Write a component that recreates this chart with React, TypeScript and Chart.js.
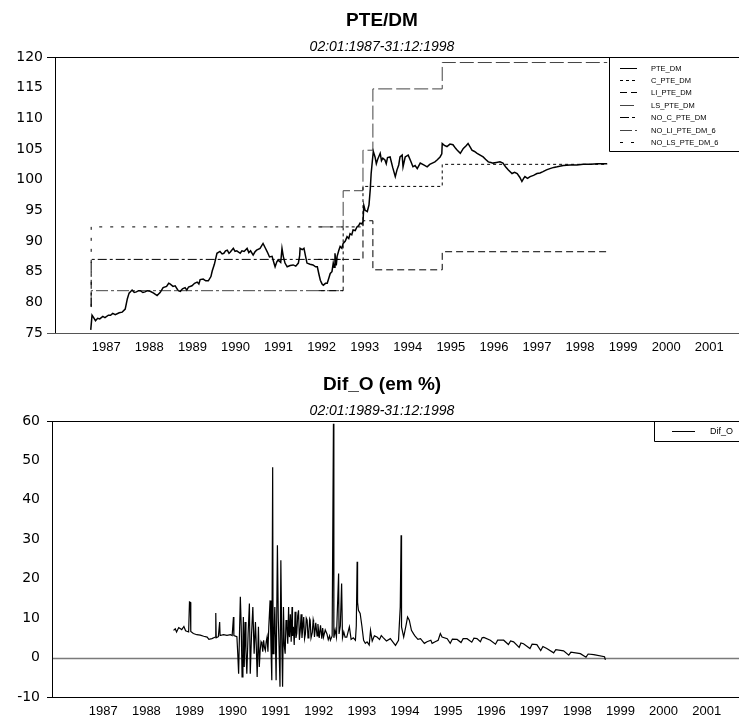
import React, { useEffect, useRef } from "react";
import { Chart, registerables } from "chart.js";

Chart.register(...registerables);

// ---------- text ----------
const TOP_TITLE = "PTE/DM";
const TOP_SUBTITLE = "02:01:1987-31:12:1998";
const BOTTOM_TITLE = "Dif_O (em %)";
const BOTTOM_SUBTITLE = "02:01:1989-31:12:1998";

// ---------- axes ----------
const YEAR_LABELS = [1987, 1988, 1989, 1990, 1991, 1992, 1993, 1994, 1995, 1996, 1997, 1998, 1999, 2000, 2001];
const TOP_Y = { min: 75, max: 120, step: 5 };
const BOTTOM_Y = { min: -10, max: 60, step: 10 };

// ---------- series (decimal year, value) ----------
const PTE_DM: [number, number][] = [
  [1986.99, 75.5], [1987.02, 77.9], [1987.05, 77.6], [1987.1, 77.0], [1987.15, 77.4], [1987.2, 77.3], [1987.27, 77.7],
  [1987.32, 77.5], [1987.4, 77.9], [1987.45, 77.9], [1987.5, 78.2], [1987.56, 78.0], [1987.65, 78.3], [1987.72, 78.4],
  [1987.79, 78.9], [1987.84, 80.6], [1987.88, 81.5], [1987.95, 82.0], [1988.0, 81.6], [1988.05, 81.7], [1988.1, 81.9],
  [1988.14, 81.9], [1988.2, 81.6], [1988.25, 81.7], [1988.31, 81.9], [1988.37, 81.8], [1988.45, 81.5], [1988.53, 81.1],
  [1988.6, 81.6], [1988.67, 82.4], [1988.75, 82.6], [1988.8, 83.1], [1988.83, 83.0], [1988.9, 82.6], [1988.95, 82.7],
  [1989.02, 81.9], [1989.07, 81.8], [1989.12, 82.2], [1989.18, 82.4], [1989.22, 82.0], [1989.26, 82.5], [1989.34, 82.7],
  [1989.4, 83.1], [1989.46, 83.3], [1989.5, 83.0], [1989.53, 83.7], [1989.6, 83.8], [1989.66, 83.5], [1989.72, 83.5],
  [1989.78, 84.2], [1989.81, 85.1], [1989.86, 86.2], [1989.92, 88.0], [1989.99, 88.3], [1990.04, 87.9], [1990.08, 88.0],
  [1990.12, 88.4], [1990.16, 88.5], [1990.2, 88.0], [1990.23, 88.2], [1990.3, 88.8], [1990.34, 88.3], [1990.38, 88.4],
  [1990.46, 88.0], [1990.5, 88.4], [1990.55, 88.3], [1990.62, 88.8], [1990.66, 88.1], [1990.7, 88.4], [1990.76, 87.7],
  [1990.8, 88.2], [1990.84, 88.5], [1990.92, 88.8], [1990.99, 89.6], [1991.04, 88.9], [1991.09, 88.2], [1991.14, 87.4],
  [1991.2, 87.5], [1991.24, 86.5], [1991.27, 85.8], [1991.31, 86.6], [1991.34, 86.9], [1991.4, 86.5], [1991.43, 88.8],
  [1991.46, 87.5], [1991.5, 86.4], [1991.55, 85.8], [1991.62, 86.0], [1991.69, 86.1], [1991.75, 85.9], [1991.81, 86.4],
  [1991.84, 87.6], [1991.85, 88.8], [1991.9, 88.6], [1991.94, 88.8], [1991.98, 87.4], [1992.01, 86.4], [1992.08, 86.2],
  [1992.15, 86.1], [1992.21, 85.8], [1992.25, 85.8], [1992.29, 84.5], [1992.32, 83.6], [1992.36, 83.0], [1992.39, 82.8],
  [1992.44, 83.1], [1992.48, 83.1], [1992.52, 84.0], [1992.55, 84.7], [1992.59, 85.0], [1992.62, 86.4], [1992.64, 85.7],
  [1992.66, 88.0], [1992.69, 86.0], [1992.71, 87.5], [1992.75, 88.5], [1992.78, 89.1], [1992.82, 88.8], [1992.85, 89.6],
  [1992.9, 90.0], [1992.94, 90.7], [1992.98, 90.4], [1993.01, 91.2], [1993.05, 91.0], [1993.08, 91.8], [1993.13, 91.7],
  [1993.17, 92.3], [1993.21, 92.5], [1993.24, 92.9], [1993.28, 92.8], [1993.31, 93.1], [1993.33, 95.8], [1993.36, 95.0],
  [1993.41, 94.8], [1993.45, 95.9], [1993.48, 98.5], [1993.5, 101.0], [1993.53, 103.2], [1993.55, 104.6], [1993.59, 103.7],
  [1993.62, 102.6], [1993.65, 103.3], [1993.71, 104.3], [1993.74, 103.1], [1993.77, 103.5], [1993.82, 103.2],
  [1993.85, 102.6], [1993.88, 103.6], [1993.94, 103.7], [1994.0, 102.0], [1994.06, 100.5], [1994.1, 101.6],
  [1994.14, 102.4], [1994.17, 103.7], [1994.22, 104.0], [1994.24, 102.1], [1994.29, 103.7], [1994.36, 104.0],
  [1994.42, 103.0], [1994.47, 102.1], [1994.52, 102.3], [1994.57, 101.8], [1994.64, 102.7], [1994.72, 102.4],
  [1994.8, 102.1], [1994.86, 102.5], [1994.92, 102.7], [1994.98, 102.9], [1995.03, 103.2], [1995.1, 103.7],
  [1995.14, 104.2], [1995.15, 105.9], [1995.2, 105.6], [1995.26, 105.4], [1995.33, 105.8], [1995.4, 105.7],
  [1995.46, 105.1], [1995.5, 104.8], [1995.57, 104.3], [1995.64, 105.1], [1995.7, 105.5], [1995.75, 105.9],
  [1995.8, 105.3], [1995.84, 104.8], [1995.9, 104.6], [1995.96, 104.3], [1996.03, 104.0], [1996.1, 103.7],
  [1996.16, 103.3], [1996.22, 102.9], [1996.28, 102.8], [1996.33, 102.7], [1996.41, 102.8], [1996.49, 102.9],
  [1996.56, 102.7], [1996.62, 102.1], [1996.68, 101.6], [1996.77, 101.0], [1996.83, 101.2], [1996.89, 101.0],
  [1996.95, 100.4], [1997.0, 99.7], [1997.04, 100.2], [1997.07, 100.5], [1997.13, 100.2], [1997.19, 100.5],
  [1997.27, 100.7], [1997.35, 101.0], [1997.42, 101.1], [1997.49, 101.3], [1997.57, 101.6], [1997.65, 101.8],
  [1997.74, 102.0], [1997.82, 102.1], [1997.96, 102.3], [1998.12, 102.4], [1998.28, 102.4], [1998.42, 102.5],
  [1998.6, 102.5], [1998.75, 102.6], [1998.98, 102.6],
];

// step series: each point = (date the value starts, value); last point closes the range
const C_PTE_DM: [number, number][] = [[1992.27, 87.0], [1992.85, 92.3], [1993.31, 98.9], [1995.15, 102.5], [1998.98, 102.5]];
const LI_PTE_DM: [number, number][] = [[1992.27, 81.9], [1992.85, 87.0], [1993.31, 93.3], [1993.54, 85.3], [1995.15, 88.25], [1998.98, 88.25]];
const LS_PTE_DM: [number, number][] = [[1992.27, 92.3], [1992.85, 98.2], [1993.31, 104.8], [1993.54, 114.8], [1995.15, 119.1], [1998.98, 119.1]];
const NO_C_PTE_DM: [number, number][] = [[1986.995, 79.3], [1987.0, 87.0], [1992.85, 87.0]];
const NO_LI_PTE_DM_6: [number, number][] = [[1986.995, 79.3], [1987.0, 81.9], [1992.85, 81.9]];
const NO_LS_PTE_DM_6: [number, number][] = [[1986.995, 79.3], [1987.0, 92.3], [1992.85, 92.3]];

const DIF_O: [number, number][] = [
  [1988.98, 6.9], [1989.02, 7.3], [1989.05, 6.5], [1989.1, 7.6], [1989.17, 7.1], [1989.22, 7.9], [1989.26, 6.8],
  [1989.33, 6.5], [1989.35, 14.1], [1989.37, 14.0], [1989.38, 6.6], [1989.44, 6.1], [1989.52, 5.8], [1989.6, 5.7],
  [1989.68, 5.4], [1989.76, 5.2], [1989.8, 4.6], [1989.87, 4.8], [1989.95, 5.2], [1989.96, 11.3], [1989.97, 5.0],
  [1990.02, 5.3], [1990.05, 9.0], [1990.06, 5.6], [1990.14, 5.8], [1990.22, 5.65], [1990.3, 5.8], [1990.34, 5.6],
  [1990.37, 10.3], [1990.38, 5.6], [1990.45, 5.3], [1990.47, 1.0], [1990.49, -4.1], [1990.51, 6.0], [1990.53, 15.4],
  [1990.55, 8.0], [1990.57, -4.9], [1990.59, 4.0], [1990.6, 10.3], [1990.62, -2.4], [1990.64, 9.0], [1990.66, 2.0],
  [1990.68, -4.1], [1990.71, 6.0], [1990.74, 13.7], [1990.76, -4.1], [1990.79, 6.0], [1990.82, 12.8], [1990.85, 1.0],
  [1990.88, 9.0], [1990.9, 3.0], [1990.92, -4.9], [1990.95, 7.8], [1990.97, -2.4], [1990.99, 1.8], [1991.01, 4.0],
  [1991.03, 3.5], [1991.05, 1.5], [1991.07, 4.4], [1991.09, 2.5], [1991.11, 1.8], [1991.13, 4.0], [1991.15, 5.2],
  [1991.17, 1.5], [1991.19, 7.8], [1991.22, 14.5], [1991.24, 3.0], [1991.26, -5.75], [1991.28, 48.3], [1991.29, 1.0],
  [1991.31, 5.0], [1991.33, 12.8], [1991.36, -5.75], [1991.39, 28.5], [1991.41, 10.0], [1991.43, 2.0], [1991.45, -7.4],
  [1991.47, 24.7], [1991.49, 5.0], [1991.51, -7.4], [1991.53, 12.8], [1991.55, 3.0], [1991.57, 1.0], [1991.59, 9.5],
  [1991.61, 7.8], [1991.63, 3.5], [1991.65, 12.8], [1991.66, 6.0], [1991.67, 5.2], [1991.69, 11.0], [1991.71, 4.0],
  [1991.73, 12.8], [1991.74, 5.5], [1991.76, 7.8], [1991.78, 3.2], [1991.8, 11.6], [1991.82, 5.0], [1991.84, 6.1],
  [1991.86, 10.5], [1991.88, 12.0], [1991.9, 4.5], [1991.92, 6.9], [1991.94, 11.0], [1991.96, 5.0], [1992.0, 10.3],
  [1992.02, 4.8], [1992.04, 6.0], [1992.06, 10.0], [1992.08, 9.5], [1992.1, 5.0], [1992.12, 6.5], [1992.14, 9.8],
  [1992.15, 9.5], [1992.17, 5.0], [1992.2, 6.4], [1992.22, 9.6], [1992.23, 9.0], [1992.25, 5.2], [1992.28, 8.8],
  [1992.31, 5.5], [1992.33, 8.5], [1992.36, 5.0], [1992.39, 8.2], [1992.42, 4.8], [1992.44, 7.5], [1992.46, 5.2],
  [1992.5, 7.0], [1992.54, 6.0], [1992.57, 4.5], [1992.6, 5.5], [1992.62, 4.4], [1992.66, 5.5], [1992.69, 59.3],
  [1992.7, 5.0], [1992.73, 7.0], [1992.76, 5.2], [1992.81, 21.3], [1992.82, 6.0], [1992.85, 8.0], [1992.88, 18.8],
  [1992.9, 5.0], [1992.93, 6.5], [1992.96, 5.2], [1993.0, 5.2], [1993.03, 6.5], [1993.06, 7.8], [1993.1, 4.6],
  [1993.15, 5.0], [1993.2, 4.4], [1993.22, 8.0], [1993.24, 24.3], [1993.25, 14.0], [1993.27, 12.0], [1993.31, 11.2],
  [1993.35, 8.0], [1993.39, 4.4], [1993.43, 3.6], [1993.47, 4.0], [1993.52, 3.2], [1993.55, 6.9], [1993.59, 4.2],
  [1993.64, 5.5], [1993.7, 5.2], [1993.76, 4.6], [1993.8, 5.6], [1993.85, 5.0], [1993.92, 4.2], [1994.01, 4.8],
  [1994.08, 3.8], [1994.13, 3.1], [1994.2, 4.4], [1994.24, 12.8], [1994.26, 31.0], [1994.27, 7.8], [1994.32, 5.2],
  [1994.38, 8.5], [1994.41, 10.3], [1994.45, 9.5], [1994.5, 6.9], [1994.55, 6.0], [1994.58, 5.5], [1994.65, 4.6],
  [1994.71, 4.8], [1994.8, 3.6], [1994.86, 4.0], [1994.95, 4.4], [1994.98, 3.6], [1995.05, 4.0], [1995.12, 4.4],
  [1995.17, 6.1], [1995.21, 5.2], [1995.33, 4.8], [1995.4, 3.6], [1995.45, 4.7], [1995.56, 4.6], [1995.65, 3.8],
  [1995.7, 4.8], [1995.79, 4.8], [1995.9, 3.9], [1995.95, 4.9], [1996.02, 4.8], [1996.1, 4.0], [1996.14, 5.0],
  [1996.18, 5.1], [1996.33, 4.4], [1996.45, 3.4], [1996.5, 4.4], [1996.64, 4.4], [1996.75, 3.3], [1996.8, 4.2],
  [1996.87, 4.0], [1997.0, 2.6], [1997.04, 3.7], [1997.1, 3.5], [1997.25, 2.3], [1997.3, 3.4], [1997.41, 3.3],
  [1997.5, 1.8], [1997.55, 2.8], [1997.64, 2.3], [1997.8, 1.2], [1997.85, 2.0], [1998.03, 1.7], [1998.15, 0.6],
  [1998.2, 1.4], [1998.42, 1.0], [1998.55, 0.1], [1998.6, 0.9], [1998.73, 0.75], [1998.98, 0.2], [1999.0, -0.6],
];

// ---------- styling ----------
const SANS = "'Liberation Sans', Arial, Helvetica, sans-serif";
const NARROW = "'Liberation Sans Narrow', 'Arial Narrow', 'Liberation Sans', sans-serif";
const WIDE = "'DejaVu Sans', 'Liberation Sans', sans-serif";
const LABEL_OFFSET = 0.35; // year label sits a little after the year start

const headingsPlugin = {
  id: "headings",
  afterDraw(chart: any, _a: any, o: any) {
    const ctx = chart.ctx;
    ctx.save();
    ctx.fillStyle = "#000";
    ctx.textAlign = "center";
    ctx.textBaseline = "middle";
    ctx.font = `bold 19px ${SANS}`;
    ctx.fillText(o.title, o.x, o.titleY);
    ctx.font = `italic 14px ${SANS}`;
    ctx.fillText(o.subtitle, o.x, o.subtitleY);
    ctx.restore();
  },
};

const framePlugin = {
  id: "frame",
  beforeDatasetsDraw(chart: any, _a: any, o: any) {
    const { ctx, chartArea } = chart;
    const { left, right, top, bottom } = chartArea;
    ctx.save();
    ctx.lineWidth = 1;
    ctx.setLineDash([]);
    if (o.zero) {
      const zy = Math.round(chart.scales.y.getPixelForValue(0)) + 0.5;
      ctx.strokeStyle = "#7a7a7a";
      ctx.lineWidth = 1.5;
      ctx.beginPath();
      ctx.moveTo(left, zy);
      ctx.lineTo(right, zy);
      ctx.stroke();
      ctx.lineWidth = 1;
    }
    ctx.strokeStyle = "#000";
    ctx.beginPath();
    ctx.moveTo(left - o.ext, Math.round(top) + 0.5);
    ctx.lineTo(right, Math.round(top) + 0.5);
    ctx.moveTo(Math.round(left) + 0.5, top);
    ctx.lineTo(Math.round(left) + 0.5, bottom);
    ctx.stroke();
    ctx.strokeStyle = o.bottomColor;
    ctx.beginPath();
    ctx.moveTo(left - o.ext, Math.round(bottom) + 0.5);
    ctx.lineTo(right, Math.round(bottom) + 0.5);
    ctx.stroke();
    ctx.restore();
  },
};

const boxLegendPlugin = {
  id: "boxLegend",
  afterDraw(chart: any, _a: any, o: any) {
    const { ctx, chartArea } = chart;
    const bx = chartArea.right - o.width;
    const by = chartArea.top;
    ctx.save();
    ctx.fillStyle = "#fff";
    ctx.fillRect(bx, by, o.width, o.height);
    ctx.strokeStyle = "#000";
    ctx.lineWidth = 1;
    ctx.setLineDash([]);
    ctx.beginPath();
    ctx.moveTo(Math.round(bx) + 0.5, by);
    ctx.lineTo(Math.round(bx) + 0.5, by + o.height + 0.5);
    ctx.lineTo(chartArea.right, by + o.height + 0.5);
    ctx.moveTo(bx, Math.round(by) + 0.5);
    ctx.lineTo(chartArea.right, Math.round(by) + 0.5);
    ctx.stroke();
    ctx.font = `${o.fontSize}px ${SANS}`;
    ctx.textAlign = "left";
    ctx.textBaseline = "middle";
    chart.data.datasets.forEach((ds: any, i: number) => {
      const y = Math.round(by + o.firstRow + i * o.rowGap) + 0.5;
      ctx.strokeStyle = ds.borderColor;
      ctx.lineWidth = 1;
      ctx.setLineDash(ds.borderDash || []);
      ctx.beginPath();
      ctx.moveTo(bx + o.lineStart, y);
      ctx.lineTo(bx + o.lineEnd, y);
      ctx.stroke();
      ctx.setLineDash([]);
      ctx.fillStyle = "#000";
      ctx.fillText(ds.label, bx + o.textX, y);
    });
    ctx.restore();
  },
};

function xScale(min: number, max: number) {
  return {
    type: "linear" as const,
    min,
    max,
    grid: { display: false, drawTicks: false },
    border: { display: false },
    afterBuildTicks: (s: any) => {
      s.ticks = YEAR_LABELS.map((y) => ({ value: y + LABEL_OFFSET }));
    },
    ticks: {
      autoSkip: false,
      maxRotation: 0,
      padding: 7,
      color: "#000",
      font: { family: NARROW, size: 13 },
      callback: (v: any) => String(Math.floor(Number(v))),
    },
  };
}

function yScale(cfg: { min: number; max: number; step: number }, width: number) {
  return {
    type: "linear" as const,
    min: cfg.min,
    max: cfg.max,
    grid: { display: false, drawTicks: false },
    border: { display: false },
    afterFit: (s: any) => {
      s.width = width;
    },
    ticks: {
      stepSize: cfg.step,
      padding: 12,
      color: "#000",
      font: { family: WIDE, size: 14 },
    },
  };
}

function lineDs(label: string, data: [number, number][], color: string, dash: number[], width: number, stepped: boolean) {
  return {
    label,
    data,
    borderColor: color,
    borderDash: dash,
    borderWidth: width,
    pointRadius: 0,
    tension: 0,
    fill: false,
    stepped: stepped ? ("before" as const) : false,
  };
}

function topConfig(): any {
  return {
    type: "line",
    data: {
      datasets: [
        lineDs("PTE_DM", PTE_DM, "#000", [], 1.5, false),
        lineDs("C_PTE_DM", C_PTE_DM, "#000", [3, 3], 1, true),
        lineDs("LI_PTE_DM", LI_PTE_DM, "#000", [7, 4], 1, true),
        lineDs("LS_PTE_DM", LS_PTE_DM, "#444", [14, 4], 1, true),
        lineDs("NO_C_PTE_DM", NO_C_PTE_DM, "#000", [9, 3, 3, 3], 1, true),
        lineDs("NO_LI_PTE_DM_6", NO_LI_PTE_DM_6, "#444", [12, 3, 3, 3], 1, true),
        lineDs("NO_LS_PTE_DM_6", NO_LS_PTE_DM_6, "#000", [3, 8], 1, true),
      ],
    },
    options: {
      responsive: false,
      animation: false,
      layout: { padding: { top: 57, left: 0, right: 0, bottom: 0 } },
      scales: {
        x: { ...xScale(1986.16, 2002.04), afterFit: (s: any) => { s.height = 29; } },
        y: yScale(TOP_Y, 55),
      },
      plugins: {
        legend: { display: false },
        title: { display: false },
        tooltip: { enabled: false },
        headings: { title: TOP_TITLE, subtitle: TOP_SUBTITLE, x: 382, titleY: 21, subtitleY: 47.5 },
        frame: { ext: 8, bottomColor: "#555", zero: false },
        boxLegend: { width: 130, height: 94, firstRow: 10.5, rowGap: 12.4, lineStart: 11, lineEnd: 28, textX: 42, fontSize: 7.5 },
      },
    },
    plugins: [headingsPlugin, framePlugin, boxLegendPlugin],
  };
}

function bottomConfig(): any {
  return {
    type: "line",
    data: {
      datasets: [lineDs("Dif_O", DIF_O, "#000", [], 1.2, false)],
    },
    options: {
      responsive: false,
      animation: false,
      layout: { padding: { top: 59, left: 0, right: 0, bottom: 0 } },
      scales: {
        x: { ...xScale(1986.16, 2002.1), afterFit: (s: any) => { s.height = 21; } },
        y: yScale(BOTTOM_Y, 52),
      },
      plugins: {
        legend: { display: false },
        title: { display: false },
        tooltip: { enabled: false },
        headings: { title: BOTTOM_TITLE, subtitle: BOTTOM_SUBTITLE, x: 382, titleY: 23, subtitleY: 48.7 },
        frame: { ext: 5, bottomColor: "#000", zero: true },
        boxLegend: { width: 85, height: 20, firstRow: 10, rowGap: 12, lineStart: 18, lineEnd: 41, textX: 56, fontSize: 9 },
      },
    },
    plugins: [headingsPlugin, framePlugin, boxLegendPlugin],
  };
}

export default function App() {
  const topRef = useRef<HTMLCanvasElement>(null);
  const botRef = useRef<HTMLCanvasElement>(null);
  useEffect(() => {
    const c1 = new Chart(topRef.current as HTMLCanvasElement, topConfig());
    const c2 = new Chart(botRef.current as HTMLCanvasElement, bottomConfig());
    return () => {
      c1.destroy();
      c2.destroy();
    };
  }, []);
  return (
    <div style={{ position: "absolute", left: 0, top: 0, width: 739, height: 718, background: "#fff", overflow: "hidden" }}>
      <canvas ref={topRef} width={739} height={362} style={{ position: "absolute", left: 0, top: 0, display: "block" }} />
      <canvas ref={botRef} width={739} height={356} style={{ position: "absolute", left: 0, top: 362, display: "block" }} />
    </div>
  );
}
